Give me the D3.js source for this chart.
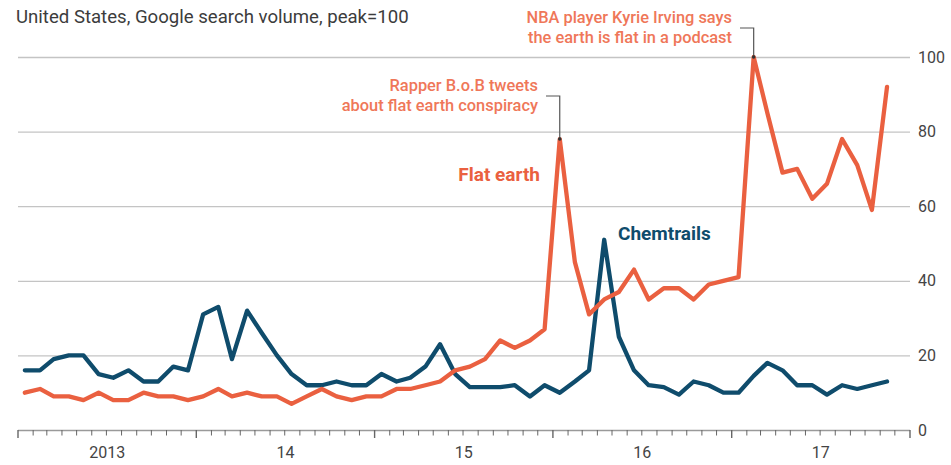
<!DOCTYPE html>
<html>
<head>
<meta charset="utf-8">
<script src="https://cdn.jsdelivr.net/npm/d3@7"></script>
<style>
  html, body { margin: 0; padding: 0; background: #fff; }
  svg { display: block; }
  text { font-family: Roboto, "Noto Sans", sans-serif; }
</style>
</head>
<body>
<svg id="chart" width="951" height="465"></svg>
<script>
// ---- Data (monthly, Jan 2013 – Nov 2017) ----
const startMonth = "2013-01";
const flatEarth = [10, 11, 9, 9, 8, 10, 8, 8, 10, 9, 9, 8,
                   9, 11, 9, 10, 9, 9, 7, 9, 11, 9, 8, 9,
                   9, 11, 11, 12, 13, 16, 17, 19, 24, 22, 24, 27,
                   78, 45, 31, 35, 37, 43, 35, 38, 38, 35, 39, 40,
                   41, 100, 85, 69, 70, 62, 66, 78, 71, 59, 92];
const chemtrails = [16, 16, 19, 20, 20, 15, 14, 16, 13, 13, 17, 16,
                    31, 33, 19, 32, 26, 20, 15, 12, 12, 13, 12, 12,
                    15, 13, 14, 17, 23, 15, 11.5, 11.5, 11.5, 12, 9, 12,
                    10, 13, 16, 51, 25, 16, 12, 11.5, 9.5, 13, 12, 10,
                    10, 14.5, 18, 16, 12, 12, 9.5, 12, 11, 12, 13];
const yTicks = [0, 20, 40, 60, 80, 100];
const yearLabels = ["2013", "14", "15", "16", "17"];
const subtitle = "United States, Google search volume, peak=100";
const seriesNames = ["Flat earth", "Chemtrails"];
const annotations = [
  { index: 36, lines: ["Rapper B.o.B tweets", "about flat earth conspiracy"] },
  { index: 49, lines: ["NBA player Kyrie Irving says", "the earth is flat in a podcast"] }
];

// ---- Setup ----
const svg = d3.select("#chart");
const parse = d3.timeParse("%Y-%m");
const t0 = parse(startMonth);
const dates = flatEarth.map((_, i) => d3.timeDay.offset(d3.timeMonth.offset(t0, i), 14));

const x = d3.scaleTime()
  .domain([new Date(2013, 0, 1), new Date(2018, 0, 1)])
  .range([18, 910]);
const y = d3.scaleLinear().domain([0, 100]).range([430, 57]);

const ORANGE = "#ea6040";
const ORANGE_TXT = "#ef7759";
const BLUE = "#0f4c6c";

// subtitle
svg.append("text")
  .attr("x", 16).attr("y", 23)
  .attr("font-size", 18.6)
  .attr("fill", "#3c3c3c")
  .text(subtitle);

// gridlines + right axis labels
const yAxis = d3.axisRight(y).tickValues(yTicks).tickSize(892).tickPadding(8)
  .tickFormat(d3.format("d"));
const gy = svg.append("g").attr("transform", "translate(18,0)").call(yAxis);
gy.select(".domain").remove();
gy.selectAll(".tick line").attr("stroke", "#c4c4c4").attr("stroke-width", 1.3);
gy.selectAll(".tick text").attr("font-size", 16).attr("fill", "#444")
  .attr("font-family", "Roboto, sans-serif");
gy.selectAll(".tick").filter(d => d === 0).select("line").attr("stroke", "#9a9a9a");

// x axis: monthly minor ticks, yearly major ticks
const months = d3.timeMonth.range(new Date(2013, 0, 1), new Date(2018, 0, 2));
const gx = svg.append("g");
gx.selectAll("line.m").data(months).join("line")
  .attr("x1", d => x(d)).attr("x2", d => x(d))
  .attr("y1", y(0))
  .attr("y2", d => y(0) + (d.getMonth() === 0 ? 8 : 5.5))
  .attr("stroke", "#666")
  .attr("stroke-width", d => d.getMonth() === 0 ? 1.4 : 1);
gx.selectAll("text.yr").data(yearLabels).join("text")
  .attr("x", (d, i) => (x(new Date(2013 + i, 0, 1)) + x(new Date(2014 + i, 0, 1))) / 2)
  .attr("y", 458)
  .attr("text-anchor", "middle")
  .attr("font-size", 16)
  .attr("fill", "#444")
  .text(d => d);

// lines
const line = d3.line().x((d, i) => x(dates[i])).y(d => y(d)).curve(d3.curveLinear);
svg.append("path").datum(chemtrails)
  .attr("d", line).attr("fill", "none")
  .attr("stroke", BLUE).attr("stroke-width", 4.3).attr("stroke-linejoin", "round").attr("stroke-linecap", "round");
svg.append("path").datum(flatEarth)
  .attr("d", line).attr("fill", "none")
  .attr("stroke", ORANGE).attr("stroke-width", 4.3).attr("stroke-linejoin", "round").attr("stroke-linecap", "round");

// series labels
svg.append("text").attr("x", 540).attr("y", 181).attr("text-anchor", "end")
  .attr("font-size", 19).attr("font-weight", "bold").attr("fill", ORANGE).text(seriesNames[0]);
svg.append("text").attr("x", 618).attr("y", 240)
  .attr("font-size", 19).attr("font-weight", "bold").attr("fill", BLUE).text(seriesNames[1]);

// annotations
const annoLayout = [
  { textRight: 538, y1: 91, lineY: 96 },
  { textRight: 732, y1: 23, lineY: 28 }
];
annotations.forEach((a, k) => {
  const L = annoLayout[k];
  const px = x(dates[a.index]);
  const py = y(flatEarth[a.index]);
  svg.append("path")
    .attr("d", `M${L.textRight + 8},${L.lineY}H${px}V${py}`)
    .attr("fill", "none").attr("stroke", "#555").attr("stroke-width", 1.2);
  svg.append("circle").attr("cx", px).attr("cy", py).attr("r", 1.8).attr("fill", "#333");
  a.lines.forEach((t, j) => {
    svg.append("text").attr("x", L.textRight).attr("y", L.y1 + j * 19.5)
      .attr("text-anchor", "end").attr("font-size", 16.4).attr("font-weight", 500)
      .attr("fill", ORANGE_TXT).text(t);
  });
});
</script>
</body>
</html>
